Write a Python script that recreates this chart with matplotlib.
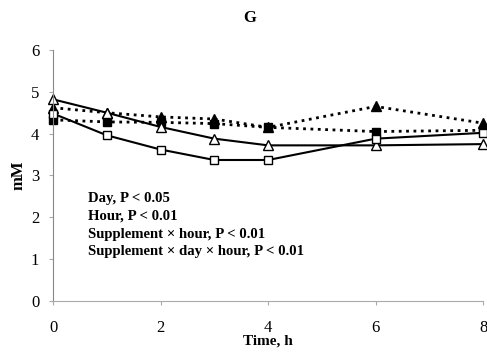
import matplotlib
matplotlib.use('Agg')
import matplotlib.pyplot as plt

plt.rcParams['font.family'] = ['Liberation Serif', 'DejaVu Serif']

hours = [0, 1, 2, 3, 4, 6, 8]
open_tri = [4.82, 4.50, 4.16, 3.88, 3.72, 3.72, 3.75]
open_sq = [4.48, 3.96, 3.62, 3.37, 3.37, 3.88, 4.02]
filled_tri = [4.62, 4.50, 4.40, 4.35, 4.15, 4.65, 4.25]
filled_sq = [4.33, 4.28, 4.27, 4.24, 4.15, 4.05, 4.08]

stats_text = ["Day, P < 0.05", "Hour, P < 0.01",
              "Supplement \u00d7 hour, P < 0.01",
              "Supplement \u00d7 day \u00d7 hour, P < 0.01"]

fig = plt.figure(figsize=(4.87, 3.52), dpi=100)
ax = fig.add_axes([0.109, 0.145, 0.883, 0.713])

ax.plot(hours, filled_tri, color='black', linestyle=':', linewidth=2,
        marker='^', markersize=6.5, markerfacecolor='black', clip_on=False)
ax.plot(hours, filled_sq, color='black', linestyle=':', linewidth=2,
        marker='s', markersize=6, markerfacecolor='black', clip_on=False)
ax.plot(hours, open_tri, color='black', linestyle='-', linewidth=1.5,
        marker='^', markersize=6.5, markerfacecolor='white', clip_on=False)
ax.plot(hours, open_sq, color='black', linestyle='-', linewidth=1.5,
        marker='s', markersize=6, markerfacecolor='white', clip_on=False)

ax.set_xlim(0, 8)
ax.set_ylim(0, 6)
ax.set_xticks([0, 2, 4, 6, 8])
ax.set_yticks(range(7))
ax.tick_params(labelsize=12, color='#aaaaaa', length=3)
ax.tick_params(axis='x', pad=11)
ax.tick_params(axis='y', pad=7)
ax.spines['top'].set_visible(False)
ax.spines['right'].set_visible(False)
ax.spines['left'].set_color('#888888')
ax.spines['bottom'].set_color('#aaaaaa')

ax.set_xlabel('Time, h', fontsize=11, fontweight='bold', labelpad=-1)
ax.set_ylabel('mM', fontsize=12, fontweight='bold', labelpad=3)
fig.text(0.512, 0.948, 'G', fontsize=12, fontweight='bold', ha='center', va='center')

for i, t in enumerate(stats_text):
    ax.text(0.65, 2.45 - i * 0.425, t, fontsize=10.6, fontweight='bold',
            va='center', ha='left')

fig.savefig('out.png', dpi=100)
